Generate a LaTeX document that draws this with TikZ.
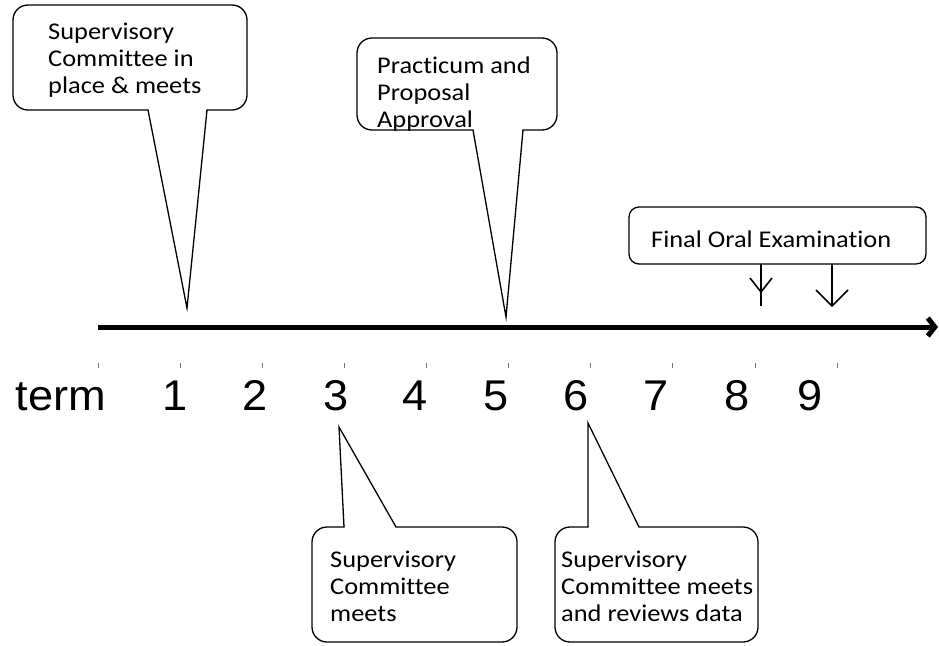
\documentclass[tikz,border=0pt]{standalone}
\usepackage{fontspec}
\setmainfont{Carlito}[Ligatures={NoCommon}]
\newfontfamily\axisfont{Liberation Sans}
\usetikzlibrary{arrows.meta}
\newcommand{\ctext}[1]{\scalebox{1.1}[1]{\begin{tabular}[t]{@{}l@{}}#1\end{tabular}}}
\newcommand{\atext}[1]{\scalebox{1.05}[1]{#1}}
\begin{document}
\begin{tikzpicture}[x=1pt,y=-1pt,
  cbox/.style={draw=black,fill=white,line width=1.3pt,rounded corners=15pt,inner sep=0pt,outer sep=0pt},
  ctxt/.style={anchor=base west,inner sep=0pt,font=\fontsize{24}{27}\selectfont},
  ptr/.style={draw=black,line width=1.3pt,line join=miter},
  axisline/.style={line width=5pt,-{Straight Barb[length=7pt,width=18pt]}},
  tickmark/.style={draw=black!55,line width=1pt},
  num/.style={anchor=base,inner sep=0pt,font=\axisfont\fontsize{43}{48}\selectfont},
  farrow/.style={line width=1.6pt},
]
\useasboundingbox (0,0) rectangle (939,645);

% axis
\coordinate (ax0) at (98,327);
\coordinate (ax1) at (938,327);
\draw[axisline] (ax0) -- (ax1);
\foreach \tx in {98,180,262,344,426,508,590,672,755,837}
  \draw[tickmark] (\tx,363) -- (\tx,368);

% numbers
\node[num] (term) at (61,410) {\atext{term}};
\node[num] (n1) at (175,410) {\atext{1}};
\node[num] (n2) at (255,410) {\atext{2}};
\node[num] (n3) at (336,410) {\atext{3}};
\node[num] (n4) at (415,410) {\atext{4}};
\node[num] (n5) at (496,410) {\atext{5}};
\node[num] (n6) at (576,410) {\atext{6}};
\node[num] (n7) at (656,410) {\atext{7}};
\node[num] (n8) at (737,410) {\atext{8}};
\node[num] (n9) at (810,410) {\atext{9}};

% callout 1
\node[cbox,minimum width=234pt,minimum height=105pt] (b1) at (130,57.5) {};
\fill[white] (148.6,106) -- (148.6,110) -- (187,308) -- (206.4,110) -- (206.4,106) -- cycle;
\draw[ptr] (148,110) -- (187,308) -- (207,110);
\node[ctxt] (t1) at (48,39) {\ctext{Supervisory\\Committee in\\place \& meets}};

% callout 2
\node[cbox,minimum width=200pt,minimum height=92pt] (b2) at (457,84) {};
\fill[white] (473.6,126) -- (473.6,130) -- (506,317) -- (522.4,130) -- (522.4,126) -- cycle;
\draw[ptr] (473,130) -- (506,317) -- (523,130);
\node[ctxt] (t2) at (377,73) {\ctext{Practicum and\\Proposal\\Approval}};

% callout 3
\node[cbox,minimum width=205pt,minimum height=115pt] (b3) at (414.5,584.5) {};
\fill[white] (344.6,531) -- (344.6,527) -- (339,427) -- (395.4,527) -- (395.4,531) -- cycle;
\draw[ptr] (344,527) -- (339,427) -- (396,527);
\node[ctxt] (t3) at (330,567) {\ctext{Supervisory\\Committee\\meets}};

% callout 4
\node[cbox,minimum width=203pt,minimum height=115pt] (b4) at (656.5,584.5) {};
\fill[white] (588.6,531) -- (588.6,527) -- (588,423) -- (638.4,527) -- (638.4,531) -- cycle;
\draw[ptr] (588,527) -- (588,423) -- (639,527);
\node[ctxt] (t4) at (561,567) {\ctext{Supervisory\\Committee meets\\and reviews data}};

% final oral examination
\node[cbox,rounded corners=10pt,minimum width=297pt,minimum height=57pt] (bf) at (777.5,235.5) {};
\node[ctxt] (tf) at (651,247) {\ctext{Final Oral Examination}};
\coordinate (f1) at (761,306);
\coordinate (f2) at (832,306);
\draw[farrow] (bf.south -| f1) -- (f1);
\draw[farrow] (750,278) -- (761,292) -- (772,278);
\draw[farrow] (bf.south -| f2) -- (f2);
\draw[farrow] (816,290) -- (f2) -- (848,290);
\end{tikzpicture}
\end{document}
